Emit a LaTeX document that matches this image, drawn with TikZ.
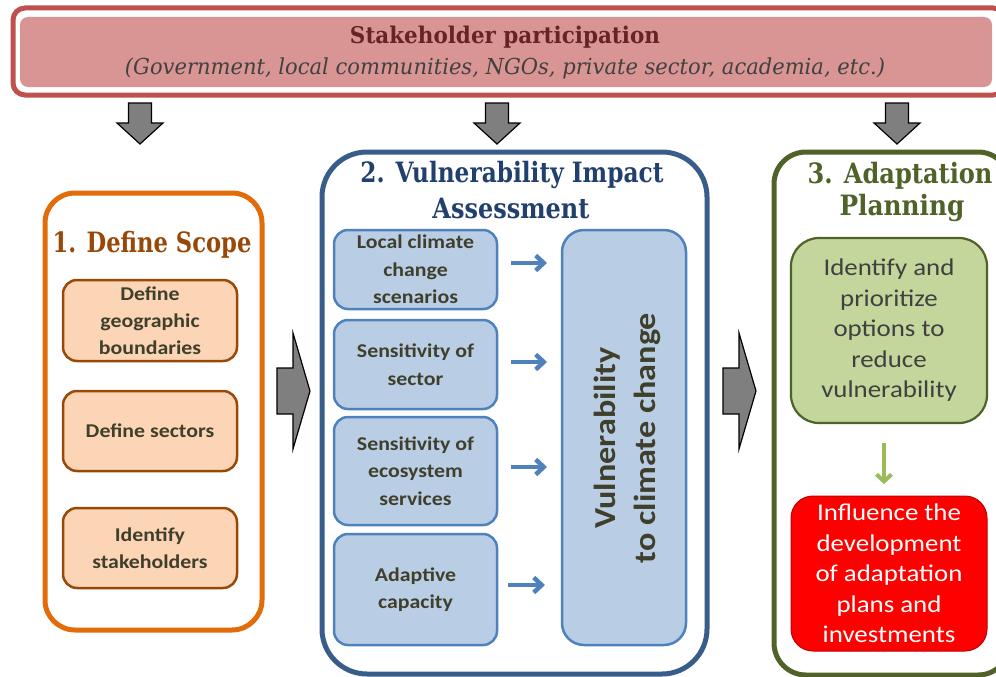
\documentclass[tikz,border=0pt]{standalone}
\usepackage{graphicx}
\usepackage{fontspec}
\setmainfont{Carlito}[FakeStretch=1.12]
\newfontfamily\titlefont{DejaVu Serif}
\usetikzlibrary{arrows.meta}
\definecolor{banborder}{HTML}{C0504D}
\definecolor{banfill}{HTML}{D99594}
\definecolor{bantitle}{HTML}{632423}
\definecolor{bansub}{HTML}{404040}
\definecolor{orng}{HTML}{E36C0A}
\definecolor{brn}{HTML}{984807}
\definecolor{peach}{HTML}{FBD5B5}
\definecolor{txtdk}{HTML}{403F2B}
\definecolor{bluedk}{HTML}{385D8A}
\definecolor{bluettl}{HTML}{22406E}
\definecolor{bluefill}{HTML}{B9CDE5}
\definecolor{blueln}{HTML}{4F81BD}
\definecolor{olive}{HTML}{4F6228}
\definecolor{greenfill}{HTML}{C3D69B}
\definecolor{greenarr}{HTML}{9BBB59}
\definecolor{redln}{HTML}{C00000}
\definecolor{arrgray}{HTML}{7F7F7F}
\begin{document}
\begin{tikzpicture}[x=1pt,y=-1pt,
  outerbox/.style={draw, line width=5pt, fill=white, inner sep=0pt},
  ttl/.style={inner sep=0pt, font=\titlefont\bfseries\fontsize{28}{30}\selectfont},
  stepbox/.style={draw=brn, line width=2.5pt, fill=peach, rounded corners=14pt, text=txtdk, inner sep=0pt, align=center, font=\bfseries\fontsize{19.5}{27}\selectfont},
  vbox/.style={draw=blueln, line width=2.5pt, fill=bluefill, rounded corners=14pt, text=txtdk, inner sep=0pt, align=center, font=\bfseries\fontsize{19.5}{27.5}\selectfont},
  blockarrow/.style={fill=arrgray, draw=black, line width=1.2pt, line join=miter},
  smallarrow/.style={draw=blueln, line width=4.5pt, -{Straight Barb[length=8pt,width=15pt]}},
  plainbox/.style={inner sep=0pt, align=center, font=\fontsize{24}{30.5}\selectfont}
]
\useasboundingbox (0,0) rectangle (996,677);

% Banner
\node[draw=banborder, line width=5pt, rounded corners=12pt, minimum width=992pt, minimum height=87pt, inner sep=0pt] (banout) at (509,51.5) {};
\node[fill=banfill, rounded corners=8pt, minimum width=972pt, minimum height=70pt, inner sep=0pt] (banin) at (506,52) {};
\node[inner sep=0pt, text=bantitle, font=\titlefont\bfseries\fontsize{23}{26}\selectfont] (bant) at (505,37) {\resizebox{310pt}{\height}{Stakeholder participation}};
\node[inner sep=0pt, text=bansub, font=\titlefont\itshape\fontsize{22}{24}\selectfont] (bans) at (505,68) {\resizebox{760pt}{\height}{(Government, local communities, NGOs, private sector, academia, etc.)}};

% Down block arrows
\foreach \cx/\nm in {140/d1, 497/d2, 897/d3}{
  \draw[blockarrow] (\cx-11.5,103) -- (\cx+11.5,103) -- (\cx+11.5,123) -- (\cx+23,123) -- (\cx,144) -- (\cx-23,123) -- (\cx-11.5,123) -- cycle;
}

% Box 1
\node[outerbox, draw=orng, rounded corners=30pt, minimum width=217pt, minimum height=437pt] (box1) at (153.5,411.5) {};
\node[ttl, text=brn] (t1) at (152,245) {\resizebox{199pt}{\height}{1. Define Scope}};
\node[stepbox, minimum width=174pt, minimum height=81pt] (s1a) at (150,320.5) {Define\\geographic\\boundaries};
\node[stepbox, minimum width=174pt, minimum height=80pt] (s1b) at (150,431) {Define sectors};
\node[stepbox, minimum width=174pt, minimum height=80pt] (s1c) at (150,548) {Identify\\stakeholders};

% Right block arrows
\foreach \sx in {277, 723}{
  \draw[blockarrow] (\sx,368) -- (\sx+16,368) -- (\sx+16,333) -- (\sx+33,391) -- (\sx+16,449) -- (\sx+16,414) -- (\sx,414) -- cycle;
}

% Box 2
\node[outerbox, draw=bluedk, rounded corners=45pt, minimum width=385pt, minimum height=522pt] (box2) at (514.5,413) {};
\node[ttl, text=bluettl] (t2a) at (512,175) {\resizebox{303pt}{\height}{2. Vulnerability Impact}};
\node[ttl, text=bluettl] (t2b) at (511,208) {\resizebox{157pt}{\height}{Assessment}};
\node[vbox, minimum width=163pt, minimum height=79pt] (v1) at (415.5,269.5) {Local climate\\change\\scenarios};
\node[vbox, minimum width=163pt, minimum height=89pt] (v2) at (415.5,364.5) {Sensitivity of\\sector};
\node[vbox, minimum width=163pt, minimum height=108pt] (v3) at (415.5,471) {Sensitivity of\\ecosystem\\services};
\node[vbox, minimum width=163pt, minimum height=111pt] (v4) at (415.5,589.5) {Adaptive\\capacity};
\node[vbox, rounded corners=22pt, minimum width=124pt, minimum height=415pt] (vul) at (624,437.5) {};
\node[rotate=90, align=center, text=txtdk, inner sep=0pt, font=\bfseries\fontsize{30.5}{40}\selectfont] (vult) at (627,438) {Vulnerability\\to climate change};
\coordinate (a1s) at (511,263); \coordinate (a1e) at (547,263);
\coordinate (a2s) at (511,362); \coordinate (a2e) at (547,362);
\coordinate (a3s) at (511,467); \coordinate (a3e) at (547,467);
\coordinate (a4s) at (508,585); \coordinate (a4e) at (545,585);
\draw[smallarrow] (a1s) -- (a1e);
\draw[smallarrow] (a2s) -- (a2e);
\draw[smallarrow] (a3s) -- (a3e);
\draw[smallarrow] (a4s) -- (a4e);

% Box 3
\node[outerbox, draw=olive, rounded corners=32pt, minimum width=236pt, minimum height=523pt] (box3) at (892,413.5) {};
\node[ttl, text=olive] (t3a) at (900,176) {\resizebox{185pt}{\height}{3. Adaptation}};
\node[ttl, text=olive] (t3b) at (902,208) {\resizebox{125pt}{\height}{Planning}};
\node[plainbox, draw=olive, line width=2.2pt, fill=greenfill, rounded corners=28pt, text=bansub, minimum width=196pt, minimum height=185pt] (g1) at (889,330.5) {Identify and\\prioritize\\options to\\reduce\\vulnerability};
\node[plainbox, draw=redln, line width=1pt, fill=red, rounded corners=22pt, text=white, minimum width=196pt, minimum height=155pt] (r1) at (889,573.5) {Influence the\\development\\of adaptation\\plans and\\investments};
\draw[draw=greenarr, line width=4pt, -{Straight Barb[length=7pt,width=15pt]}] (g1.south) ++(-5,19) coordinate (gs) -- ++(0,41) coordinate (ge);
\end{tikzpicture}
\end{document}
